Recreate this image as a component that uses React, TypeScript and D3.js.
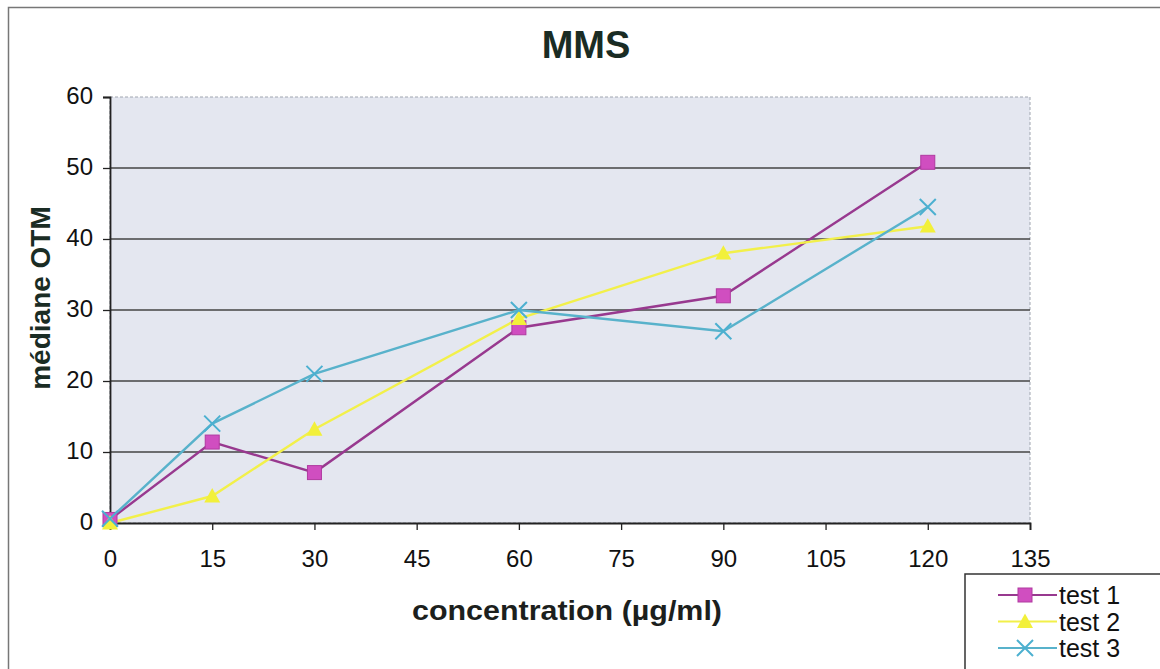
import React, { useEffect, useRef } from 'react';
import * as d3 from 'd3';

const xValues = [0, 15, 30, 60, 90, 120];
const test1 = [0.5, 11.4, 7.1, 27.5, 32, 50.8];
const test2 = [0, 3.8, 13.2, 28.8, 38, 41.8];
const test3 = [0.6, 14, 21, 30, 27, 44.5];
const xTicks = [0, 15, 30, 45, 60, 75, 90, 105, 120, 135];
const yTicks = [0, 10, 20, 30, 40, 50, 60];
const seriesNames = ['test 1', 'test 2', 'test 3'];

const W = 1160;
const H = 669;
const font = 'Arial, "Liberation Sans", sans-serif';

const Chart = () => {
  const ref = useRef<SVGSVGElement>(null);

  useEffect(() => {
    const svg = d3.select(ref.current);
    svg.selectAll('*').remove();

    const left = 110, right = 1030, top = 97, bottom = 523;
    const x = d3.scaleLinear().domain([0, 135]).range([left, right]);
    const y = d3.scaleLinear().domain([0, 60]).range([bottom, top]);

    // outer frame
    svg.append('rect').attr('x', 0).attr('y', 0).attr('width', W).attr('height', H).attr('fill', '#ffffff');
    svg.append('rect').attr('x', 8.5).attr('y', 7.5).attr('width', W).attr('height', H)
      .attr('fill', 'none').attr('stroke', '#777').attr('stroke-width', 1.5);

    // plot background
    svg.append('rect').attr('x', left).attr('y', top).attr('width', right - left).attr('height', bottom - top)
      .attr('fill', '#e4e7f0').attr('stroke', '#a0a6b0').attr('stroke-width', 1)
      .attr('stroke-dasharray', '3,2');

    // gridlines
    svg.append('g').selectAll('line').data(yTicks.filter(d => d > 0 && d < 60)).join('line')
      .attr('x1', left).attr('x2', right).attr('y1', d => y(d)).attr('y2', d => y(d))
      .attr('stroke', '#444').attr('stroke-width', 1.3);

    // axes
    const xAxis = svg.append('g').attr('transform', `translate(0,${bottom})`)
      .call(d3.axisBottom(x).tickValues(xTicks).tickSize(7).tickPadding(20).tickFormat(d3.format('d')));
    const yAxis = svg.append('g').attr('transform', `translate(${left},0)`)
      .call(d3.axisLeft(y).tickValues(yTicks).tickSize(7).tickPadding(10).tickFormat(d3.format('d')));
    [xAxis, yAxis].forEach(a => {
      a.select('.domain').attr('stroke', '#222').attr('stroke-width', 1.8);
      a.selectAll('.tick line').attr('stroke', '#222').attr('stroke-width', 1.3);
      a.selectAll('.tick text').attr('font-family', font).attr('fill', '#111');
    });
    xAxis.selectAll('.tick text').attr('font-size', 24);
    yAxis.selectAll('.tick text').attr('font-size', 24).attr('dy', '0.28em');

    // lines
    const colors = [
      { line: '#98398f', mark: '#d04ec0' },
      { line: '#f2f04a', mark: '#f2f03a' },
      { line: '#58b2cb', mark: '#4cb0d0' },
    ];
    const allSeries = [test1, test2, test3];
    const line = d3.line<number>().x((_, i) => x(xValues[i])).y(d => y(d));

    const drawMarker = (g: any, k: number, cx: number, cy: number) => {
      if (k === 0) {
        g.append('rect').attr('x', cx - 7).attr('y', cy - 7).attr('width', 14).attr('height', 14)
          .attr('fill', colors[0].mark).attr('stroke', '#b03aa0').attr('stroke-width', 1);
      } else if (k === 1) {
        const s = 8;
        g.append('path').attr('d', `M${cx},${cy - s}L${cx + s},${cy + s * 0.8}L${cx - s},${cy + s * 0.8}Z`)
          .attr('fill', colors[1].mark);
      } else {
        const s = 8;
        g.append('path').attr('d', `M${cx - s},${cy - s}L${cx + s},${cy + s}M${cx + s},${cy - s}L${cx - s},${cy + s}`)
          .attr('stroke', colors[2].mark).attr('stroke-width', 2).attr('fill', 'none');
      }
    };

    allSeries.forEach((s, k) => {
      svg.append('path').datum(s).attr('d', line).attr('fill', 'none')
        .attr('stroke', colors[k].line).attr('stroke-width', 2.4);
    });
    allSeries.forEach((s, k) => {
      const g = svg.append('g');
      s.forEach((v, i) => drawMarker(g, k, x(xValues[i]), y(v)));
    });

    // title and axis titles
    svg.append('text').attr('x', 586).attr('y', 58).attr('text-anchor', 'middle')
      .attr('font-family', font).attr('font-weight', 'bold').attr('font-size', 38).attr('fill', '#1a2c24').text('MMS');
    svg.append('text').attr('x', 567).attr('y', 620).attr('text-anchor', 'middle')
      .attr('font-family', font).attr('font-weight', 'bold').attr('font-size', 28).attr('fill', '#1c1f1d')
      .attr('textLength', 310).attr('lengthAdjust', 'spacingAndGlyphs')
      .text('concentration (µg/ml)');
    svg.append('text').attr('transform', `translate(50,298) rotate(-90)`).attr('text-anchor', 'middle')
      .attr('font-family', font).attr('font-weight', 'bold').attr('font-size', 28).attr('fill', '#1a2c24')
      .text('médiane OTM');

    // legend
    const lg = svg.append('g');
    lg.append('rect').attr('x', 965).attr('y', 574).attr('width', 210).attr('height', 110)
      .attr('fill', '#fff').attr('stroke', '#333').attr('stroke-width', 1.5);
    seriesNames.forEach((name, k) => {
      const ly = 595 + k * 26.5;
      lg.append('line').attr('x1', 998).attr('x2', 1057).attr('y1', ly).attr('y2', ly)
        .attr('stroke', colors[k].line).attr('stroke-width', 2);
      drawMarker(lg, k, 1025, ly);
      lg.append('text').attr('x', 1059).attr('y', ly + 9).attr('font-family', font).attr('font-size', 25)
        .attr('fill', '#111').text(name);
    });
  }, []);

  return <svg ref={ref} width={W} height={H} style={{ display: 'block', position: 'absolute', left: 0, top: 0 }} />;
};

export default function App() {
  return <Chart />;
}
